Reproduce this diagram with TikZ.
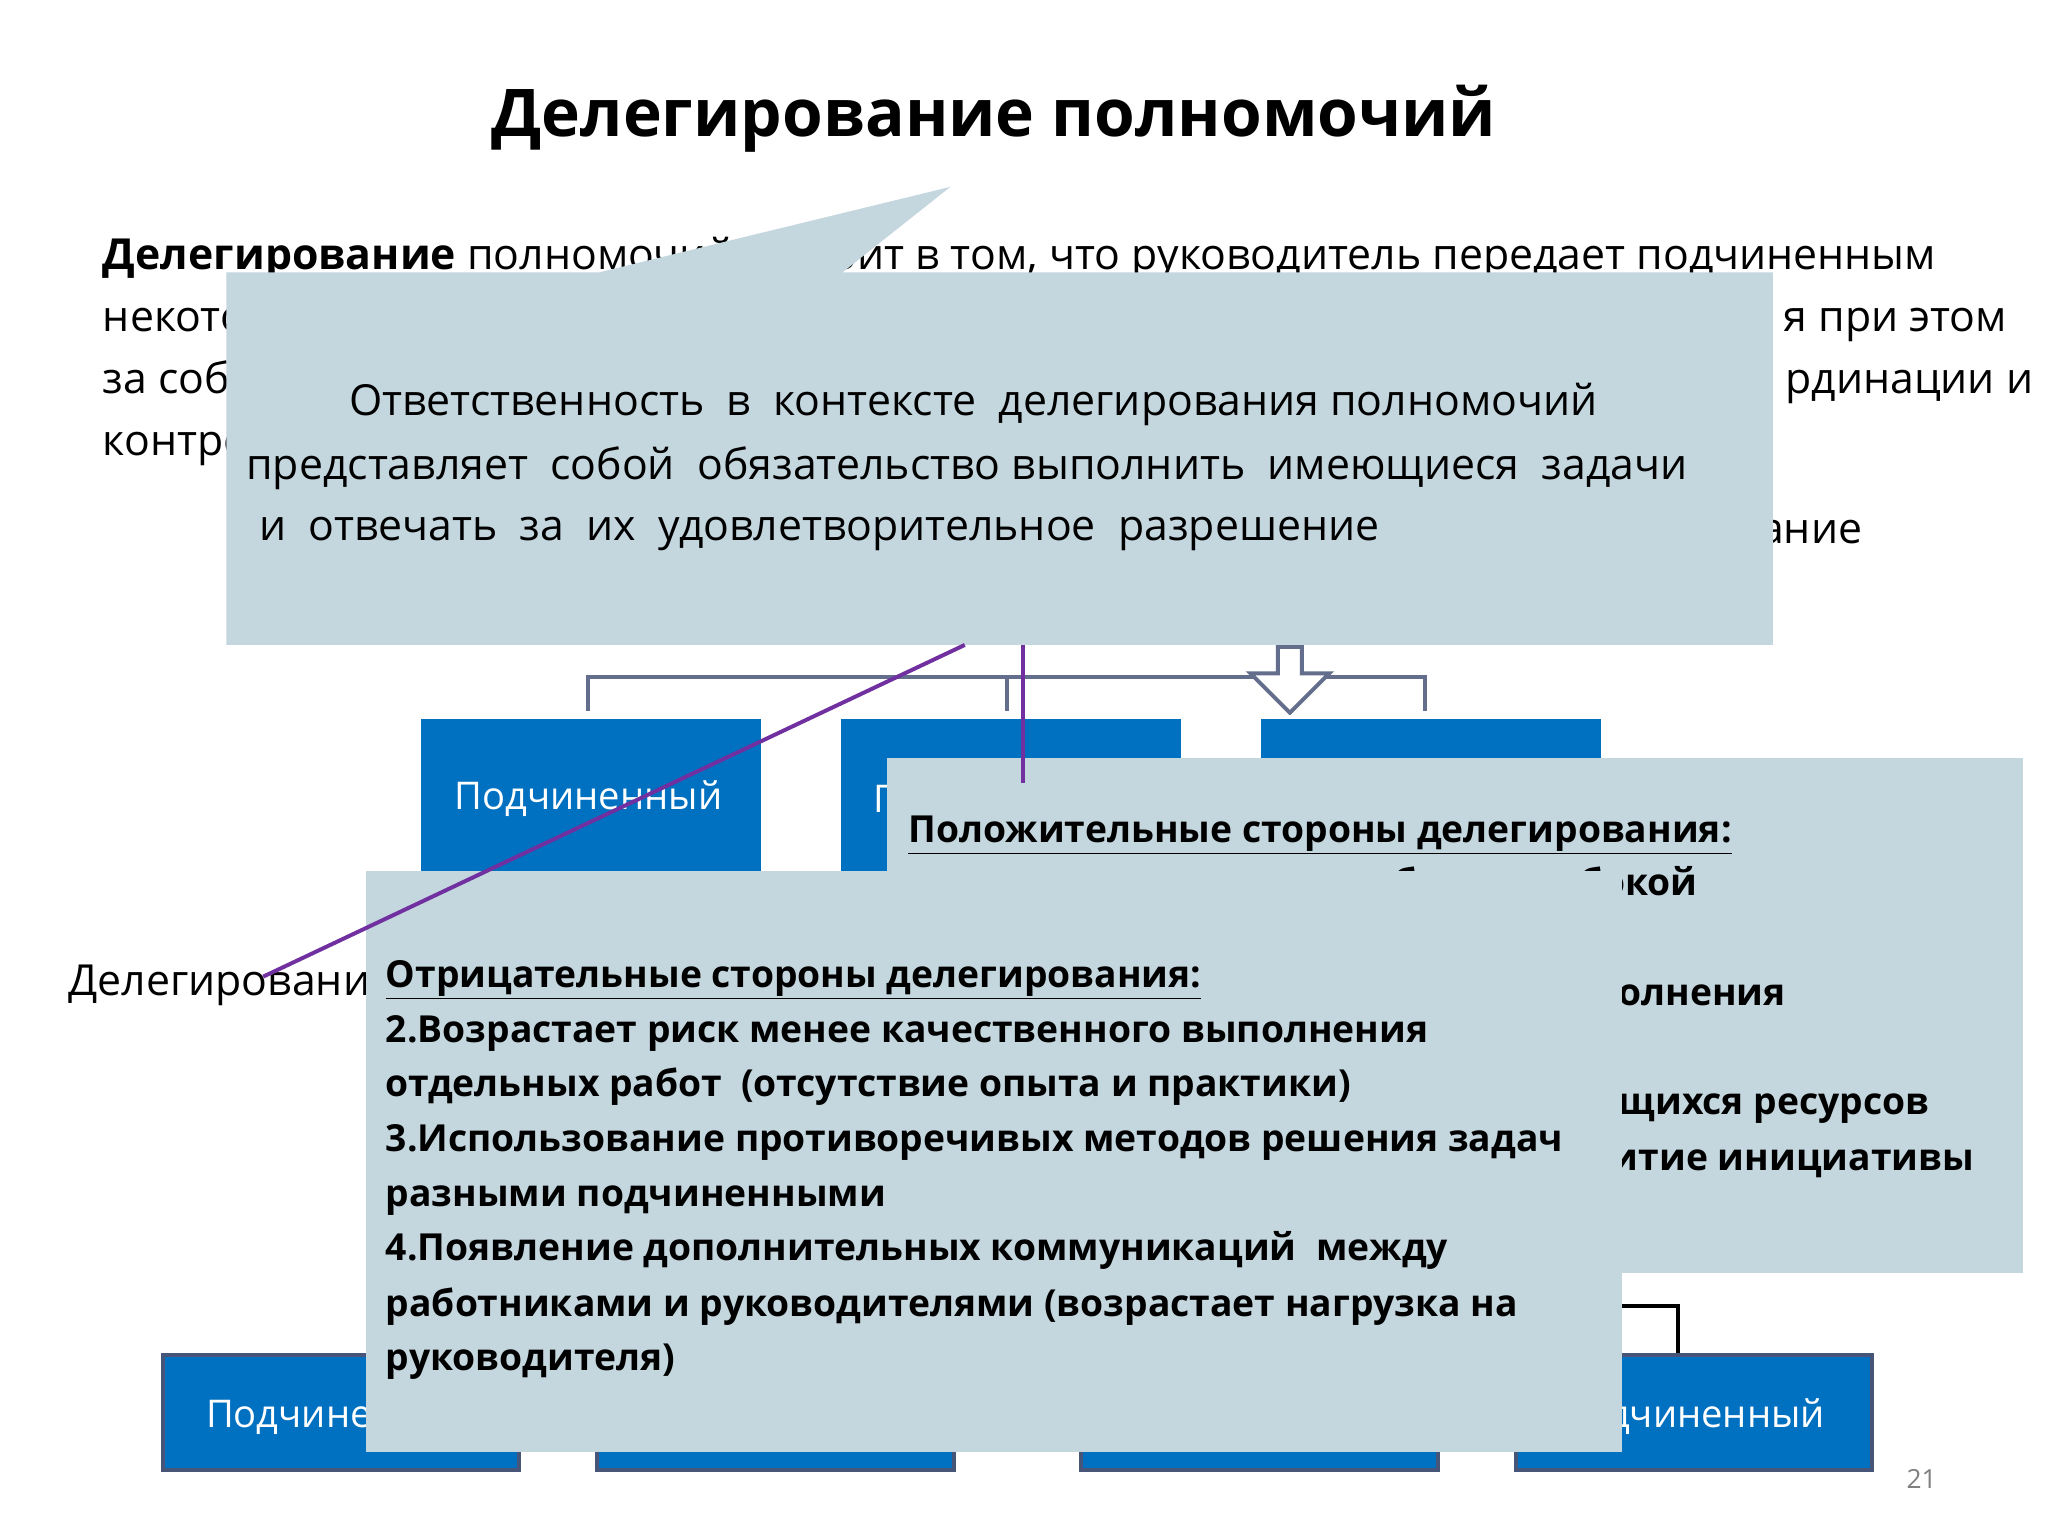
\documentclass[tikz,border=0pt]{standalone}
\usepackage{fontspec}
\setmainfont{Open Sans}
\usetikzlibrary{shapes.arrows}
\definecolor{cal}{RGB}{196,214,222}
\definecolor{bbl}{RGB}{0,112,192}
\definecolor{pur}{RGB}{112,48,160}
\definecolor{gln}{RGB}{98,110,140}
\definecolor{bbd}{RGB}{70,85,120}
\tikzset{
 tx/.style={anchor=base west,inner sep=0pt,font=\fontsize{32.5}{38}\selectfont},
 bt/.style={anchor=base west,inner sep=0pt,font=\fontsize{28.3}{34}\selectfont\bfseries},
 callout/.style={fill=cal,draw=none},
 sub/.style={fill=bbl,draw=white,line width=3pt},
 subb/.style={fill=bbl,draw=bbd,line width=3pt},
 conn/.style={draw=gln,line width=3pt},
 pl/.style={draw=pur,line width=3pt},
 wt/.style={text=white,font=\fontsize{29}{34}\selectfont}
}
\begin{document}
\begin{tikzpicture}[x=1pt,y=-1pt]
\useasboundingbox (0,0) rectangle (1556,1167);
\fill[white] (0,0) rectangle (1556,1167);
\node[anchor=center,font=\fontsize{50}{60}\selectfont\bfseries] (title) at (755,90) {Делегирование полномочий};
% paragraph
\node[tx] (p1) at (78,205) {\textbf{Делегирование} полномочий состоит в том, что руководитель передает подчиненным};
\node[tx] (p2) at (78,252) {некоторые};
\node[tx,anchor=base east] (p2b) at (1525,252) {я при этом};
\node[tx] (p3) at (78,299) {за собой};
\node[tx,anchor=base east] (p3b) at (1545,299) {рдинации и};
\node[tx] (p4) at (78,346) {контроля};
\node[tx,anchor=base east] (p5) at (1415,413) {ание};
% org chart connectors
\coordinate (top) at (777,490);
\draw[conn] (777,490) -- (777,514);
\draw[conn] (447,540) -- (447,514) -- (1083,514) -- (1083,540);
\draw[conn] (765,514) -- (765,540);
\node[single arrow,shape border rotate=270,draw=gln,fill=white,line width=3pt,minimum height=50pt,minimum width=60pt,single arrow head extend=8pt,inner sep=2pt] (arr) at (980,512) {};
\node[sub,minimum width=261pt,minimum height=122pt,anchor=north west] (s1) at (317,543) {};
\node[wt] at (447,607) {Подчиненный};
\node[sub,minimum width=261pt,minimum height=122pt,anchor=north west] (s2) at (636,543) {};
\node[wt,anchor=west] at (660,607) {П};
\node[sub,minimum width=261pt,minimum height=122pt,anchor=north west] (s3) at (955,543) {};
% callout 1
\fill[callout] (172,207) -- (455,207) -- (722,142) -- (640,207) -- (1347,207) -- (1347,490) -- (172,490) -- cycle;
\node[tx] (c1a) at (265,316) {Ответственность \ в \ контексте \ делегирования полномочий};
\node[tx] (c1b) at (187,364) {представляет \ собой \ обязательство выполнить \ имеющиеся \ задачи};
\node[tx] (c1c) at (197,411) {и \ отвечать \ за \ их \ удовлетворительное \ разрешение};
% left text
\node[tx] (dl) at (52,756) {Делегирование};
% bottom boxes
\node[subb,minimum width=271pt,minimum height=87pt,anchor=north west] (b1) at (122,1028) {};
\node[wt,anchor=west] at (153,1076) {Подчиненный};
\node[subb,minimum width=271pt,minimum height=87pt,anchor=north west] (b2) at (452,1028) {};
\node[subb,minimum width=271pt,minimum height=87pt,anchor=north west] (b3) at (820,1028) {};
\node[subb,minimum width=271pt,minimum height=87pt,anchor=north west] (b4) at (1150,1028) {};
\node[wt,anchor=east] at (1390,1076) {Подчиненный};
\draw[line width=3pt] (1225,992) -- (1275,992) -- (b4.north -| 1275,0);
% callout 2
\fill[callout] (674,576) rectangle (1537,967);
\node[bt] (h2) at (690,640) {\underline{Положительные стороны делегирования:}};
\begin{scope}
\clip (674,576) rectangle (1537,662) (1232,662) rectangle (1537,967);
\node[bt,anchor=base east] at (1290,680) {2.Сосредоточение руководителя на более глубокой};
\node[bt,anchor=base east] at (1357,764) {2.Сокращение сроков выполнения};
\node[bt,anchor=base east] at (1466,847) {3.Рациональное использование имеющихся ресурсов};
\node[bt,anchor=base east] at (1500,889) {4.Стимулирование и развитие инициативы};
\end{scope}
% callout 3
\fill[callout] (278,662) rectangle (1232,1103);
\node[bt] (h3t) at (293,750) {\underline{Отрицательные стороны делегирования:}};
\node[bt] at (293,792) {2.Возрастает риск менее качественного выполнения};
\node[bt] at (293,833) {отдельных работ \ (отсутствие опыта и практики)};
\node[bt] at (293,875) {3.Использование противоречивых методов решения задач};
\node[bt] at (293,917) {разными подчиненными};
\node[bt] at (293,958) {4.Появление дополнительных коммуникаций \ между};
\node[bt] at (293,1000) {работниками и руководителями (возрастает нагрузка на};
\node[bt] at (293,1041) {руководителя)};
% purple pointer lines
\coordinate (pa) at (733,490);
\coordinate (pb) at (200,742);
\draw[pl] (pa) -- (pb);
\draw[pl] (top) -- (777,595);
\node[anchor=center,text=gray,font=\fontsize{20}{24}\selectfont] (pg) at (1460,1124) {21};
\end{tikzpicture}
\end{document}
